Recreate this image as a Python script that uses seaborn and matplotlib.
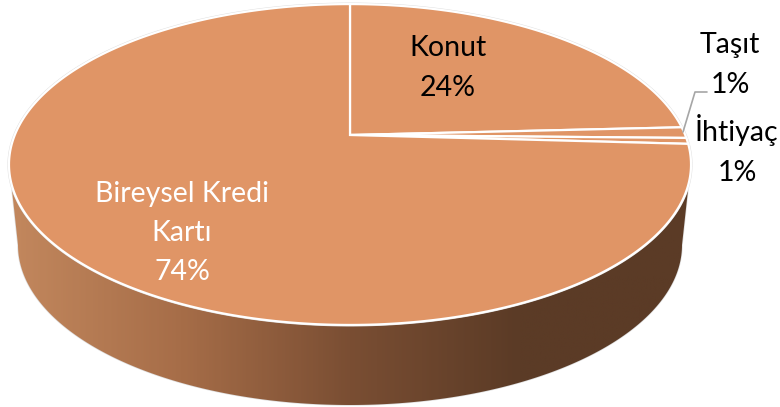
import numpy as np
import matplotlib
matplotlib.use("Agg")
import matplotlib.pyplot as plt
from matplotlib.patches import Polygon
import seaborn as sns

# shares read from the slice borders, labels show them rounded
names = ["Konut", "Taşıt", "İhtiyaç", "Bireysel Kredi\nKartı"]
shares = [24.2, 1.1, 0.6, 74.1]
text_colors = ["black", "black", "black", "white"]
label_xy = [(448, 68), (730, 65), (737, 150), (182, 233)]

top_color = "#E09566"
side_colors = ["#C2875D", "#A66D48", "#7A4E33", "#5B3B26", "#5B3B26"]

sns.set_theme(style="white")
plt.rcParams['font.family'] = ['Lato', 'DejaVu Sans']


def rim(theta):
    """Tilted pie rim, theta clockwise from the top, in pixels."""
    k = 0.184
    w = 1 + k * np.cos(theta)
    return np.column_stack([350 + 335.2 * np.sin(theta) / w,
                            135 - 155 * np.cos(theta) / w])


fig, ax = plt.subplots(figsize=(7.8, 4.07), dpi=100)
fig.subplots_adjust(0, 0, 1, 1)
ax.set_xlim(0, 780)
ax.set_ylim(407, 0)
ax.axis("off")

# side wall with left to right gradient
t = np.linspace(0, np.pi, 200)
lower = np.column_stack([350 - 332 * np.cos(t), 245 + 160 * np.sin(t)])
wall = np.vstack([[(12, 190)], lower, [(688, 190)]])
wall_patch = Polygon(wall, closed=True, facecolor="none", edgecolor="#DEDEDE", linewidth=1.0)
ax.add_patch(wall_patch)
cmap = sns.blend_palette(side_colors, as_cmap=True)
grad = ax.imshow(np.linspace(0, 1, 300)[None, :], cmap=cmap, extent=(12, 688, 407, 150),
                 aspect="auto", zorder=1)
grad.set_clip_path(wall_patch)
ax.set_xlim(0, 780)
ax.set_ylim(407, 0)

# top face
ax.add_patch(Polygon(rim(np.linspace(0, 2 * np.pi, 400)), closed=True, facecolor="none",
                     edgecolor="#DEDEDE", linewidth=2.2, zorder=2))
edges = np.cumsum([0] + shares) / 100 * 2 * np.pi
for a, b in zip(edges[:-1], edges[1:]):
    pts = rim(np.linspace(a, b, max(int((b - a) * 80), 4)))
    ax.add_patch(Polygon(np.vstack([[(350, 135)], pts]), closed=True, facecolor=top_color,
                         edgecolor="white", linewidth=1.6, joinstyle="miter", zorder=3))

# leader for the Taşıt label
ax.plot([683, 695, 707], [132, 92, 92], color="#A6A6A6", linewidth=1.2, zorder=4)

for name, share, color, (x, y) in zip(names, shares, text_colors, label_xy):
    ax.text(x, y, f"{name}\n{share:.0f}%", color=color, fontsize=20.5, ha="center", va="center",
            linespacing=1.62, zorder=5)

fig.savefig("out.png", dpi=100)
